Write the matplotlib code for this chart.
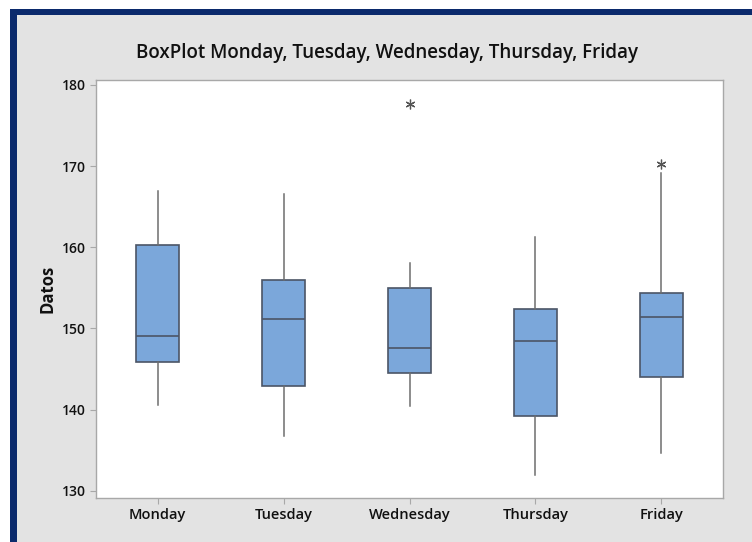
import matplotlib.pyplot as plt
from matplotlib.patches import Rectangle

# Box plot summary
days = ["Monday", "Tuesday", "Wednesday", "Thursday", "Friday"]
whisker_low = [140.6, 136.8, 140.4, 131.9, 134.6]
q1 = [145.8, 142.9, 144.5, 139.2, 144.0]
median = [149.0, 151.2, 147.6, 148.5, 151.35]
q3 = [160.3, 155.95, 155.0, 152.4, 154.35]
whisker_high = [166.9, 166.5, 158.1, 161.2, 169.1]
outliers = [[], [], [177.6], [], [170.3]]

y_ticks = [130, 140, 150, 160, 170, 180]

plt.rcParams['font.family'] = ['Open Sans', 'DejaVu Sans']

fig = plt.figure(figsize=(7.52, 5.42), dpi=100, facecolor='white')
W, H = 752, 542

# gray panel with navy frame on the left and top
fig.add_artist(Rectangle((10 / W, 0), 1, 1 - 9 / H, transform=fig.transFigure,
                         facecolor='#0b2a6c', edgecolor='none', zorder=-10))
fig.add_artist(Rectangle((17 / W, 0), 1, 1 - 15 / H, transform=fig.transFigure,
                         facecolor='#e3e3e3', edgecolor='none', zorder=-9))

ax = fig.add_axes([96 / W, 1 - 498 / H, 627 / W, 418 / H])
ax.set_facecolor('white')

stats = []
for i in range(len(days)):
    stats.append({
        'label': days[i],
        'whislo': whisker_low[i],
        'q1': q1[i],
        'med': median[i],
        'q3': q3[i],
        'whishi': whisker_high[i],
        'fliers': outliers[i],
    })

ax.bxp(stats, positions=range(1, 6), widths=0.34, patch_artist=True, showcaps=False,
       boxprops=dict(facecolor='#7ba7da', edgecolor='#4b5566', linewidth=1.2),
       medianprops=dict(color='#4b5566', linewidth=1.2),
       whiskerprops=dict(color='#6e6e6e', linewidth=1.1),
       flierprops=dict(marker=(6, 2, 0), markersize=7, markeredgecolor='#555555',
                       markeredgewidth=0.9, linestyle='none'))

ax.set_xlim(0.51, 5.49)
ax.set_ylim(129.1, 180.6)
ax.set_yticks(y_ticks)
ax.set_xticks(range(1, 6))
ax.set_xticklabels(days)

for s in ax.spines.values():
    s.set_color('#a8a8a8')
    s.set_linewidth(1.0)
ax.tick_params(axis='both', colors='#a8a8a8', length=4, width=0.8,
               labelcolor='#111111')
ax.tick_params(axis='y', labelsize=10)
ax.tick_params(axis='x', labelsize=10.5)
for lbl in ax.get_xticklabels() + ax.get_yticklabels():
    lbl.set_fontweight('semibold')

ax.set_ylabel("Datos", fontsize=12, fontweight='bold', color='#111111', labelpad=4)
fig.text(387 / W, 1 - 53 / H, "BoxPlot Monday, Tuesday, Wednesday, Thursday, Friday",
         ha='center', va='center', fontsize=13.5, fontweight='semibold', color='#111111')

fig.savefig("out.png", dpi=100, facecolor=fig.get_facecolor())
